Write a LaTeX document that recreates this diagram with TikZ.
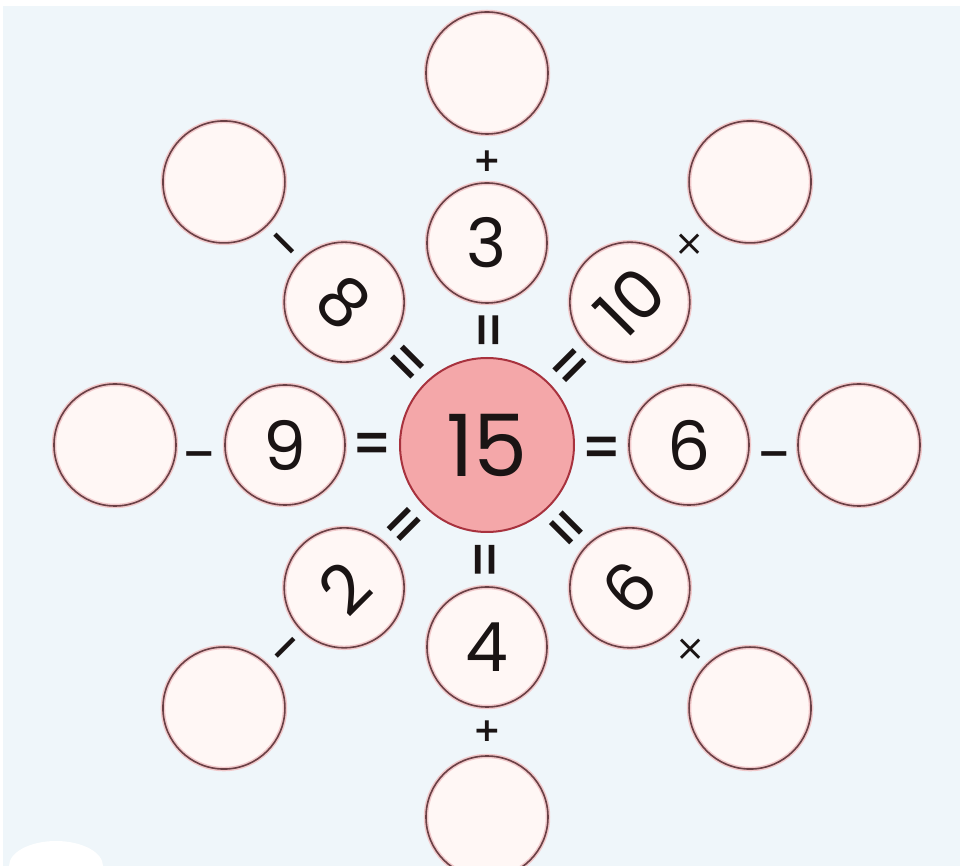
\documentclass[tikz,border=0pt]{standalone}
\usepackage{fontspec}
\usepackage{graphicx}
\setmainfont{Poppins}
\newfontfamily\opfont{DejaVu Sans}
\definecolor{bgblue}{HTML}{EFF6FA}
\definecolor{ringfill}{HTML}{FFF7F5}
\definecolor{ringline}{HTML}{6A4045}
\definecolor{ringhalo}{HTML}{F1C9CB}
\definecolor{ctrfill}{HTML}{F4A7A9}
\definecolor{ctrline}{HTML}{A8323E}
\definecolor{inkc}{HTML}{1A1414}
\newcommand{\axisbox}[2]{\raisebox{-#1}[0.36em][0.36em]{#2}}
\begin{document}
\begin{tikzpicture}[x=1pt,y=1pt,
  ringc/.style={circle, draw=ringhalo, line width=4.5pt, fill=ringfill, inner sep=0pt,
    postaction={draw=ringline, line width=1.6pt}},
  innerc/.style={ringc, minimum size=120pt, text=inkc, font=\fontsize{68}{68}\selectfont},
  outerc/.style={ringc, minimum size=122pt},
  ctrc/.style={circle, draw=ctrline, line width=2pt, fill=ctrfill, minimum size=174pt, inner sep=0pt, text=inkc, font=\fontsize{86}{86}\selectfont},
  eqs/.style={inner sep=0pt, text=inkc, font=\opfont\fontsize{46}{46}\selectfont},
  plusop/.style={inner sep=0pt, text=inkc, font=\opfont\bfseries\fontsize{33}{33}\selectfont},
  minusop/.style={inner sep=0pt, text=inkc, font=\opfont\bfseries\fontsize{40}{40}\selectfont},
  timesop/.style={inner sep=0pt, text=inkc, font=\opfont\fontsize{36}{36}\selectfont}
]
\useasboundingbox (-487,-421) rectangle (476,445);
\fill[white] (-487,-421) rectangle (476,445);
\fill[bgblue] (-484,-421) rectangle (473,439);
\fill[white] (-431,-421) ellipse (47 and 25);

\node[ctrc] (c) at (0,0) {15};

% inner numbers and outer empty circles
\foreach \ang/\lab/\rot/\k in {0/6/0/0, 45/10/45/1, 90/3/0/2, 135/8/-45/3, 180/9/0/4, 225/2/45/5, 270/4/0/6, 315/9/-135/7}{
  \node[innerc, rotate=\rot] (i\k) at (\ang:202) {\lab};
  \node[outerc] (o\k) at (\ang:372) {};
  \node[eqs, rotate=\ang] (e\k) at (\ang:115) {\axisbox{0.52em}{\scalebox{1}[1.5]{=}}};
}

% operators between inner and outer circles
\node[minusop] (p0) at (287,-8) {\axisbox{0.34em}{−}};
\node[timesop] (p1) at (45:286) {\axisbox{0.34em}{×}};
\node[plusop] (p2) at (90:285) {\axisbox{0.34em}{+}};
\node[minusop, rotate=-45] (p3) at (135:286) {\axisbox{0.34em}{−}};
\node[minusop] (p4) at (-288,-8) {\axisbox{0.34em}{−}};
\node[minusop, rotate=45] (p5) at (225:286) {\axisbox{0.34em}{−}};
\node[plusop] (p6) at (270:285) {\axisbox{0.34em}{+}};
\node[timesop] (p7) at (315:288) {\axisbox{0.34em}{×}};
\end{tikzpicture}
\end{document}
